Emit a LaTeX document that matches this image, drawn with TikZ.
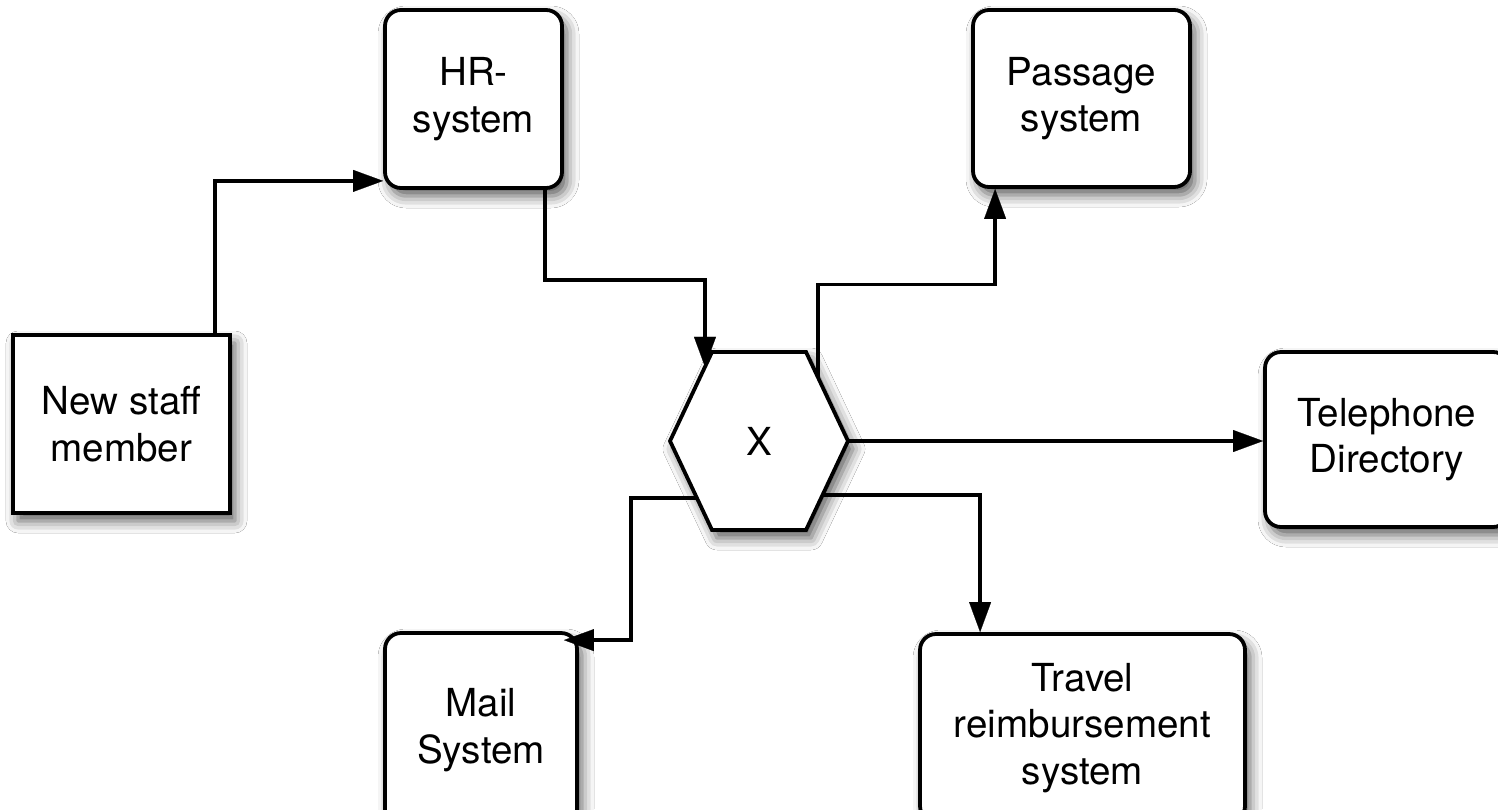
\documentclass[tikz,border=0pt]{standalone}
\usepackage{fontspec}
\setmainfont{TeX Gyre Heros}
\usetikzlibrary{calc,arrows.meta,shadows.blur}
\begin{document}
\begin{tikzpicture}[x=0.5pt,y=-0.5pt,
  shade/.style={blur shadow={shadow xshift=2.5pt,shadow yshift=-4pt,shadow blur radius=6pt,shadow opacity=65}},
  sysbox/.style={draw,line width=1.9pt,fill=white,rounded corners=8pt,inner sep=0pt,align=center,
     font=\fontsize{19.3}{23.3}\selectfont,shade},
  sqbox/.style={sysbox,rounded corners=0pt},
  conn/.style={line width=1.7pt,draw=black,opacity=1,fill opacity=1,draw opacity=1,
     -{Triangle[length=15pt,width=11pt,fill=black,line width=0.1pt]}},
  hexline/.style={draw,line width=1.9pt,fill=white,line join=miter,shade}
]
\useasboundingbox (0,0) rectangle (1498,809);
\fill[white] (0,0) rectangle (1498,809);

\node[sqbox,minimum width=108.5pt,minimum height=89pt] (ns) at (121.5,424) {New staff\\member};
\node[sysbox,minimum width=88.5pt,minimum height=89pt] (hr) at (473.5,99) {HR-\\system};
\node[sysbox,minimum width=108.5pt,minimum height=88.5pt] (ps) at (1081.5,98.5) {Passage\\system};
\node[sysbox,minimum width=122pt,minimum height=87.5pt] (tel) at (1387,439.5) {Telephone\\Directory};
\node[sysbox,minimum width=96pt,minimum height=97pt] (mail) at (481,730) {Mail\\System};
\node[sysbox,minimum width=162.5pt,minimum height=94pt] (trav) at (1082.5,728) {Travel\\reimbursement\\system};

% hexagon
\coordinate (hc) at (759,441);
\coordinate (hW) at ($(hc)+(-89,0)$);
\coordinate (hNW) at ($(hc)+(-47,-89)$);
\coordinate (hNE) at ($(hc)+(47,-89)$);
\coordinate (hE) at ($(hc)+(89,0)$);
\coordinate (hSE) at ($(hc)+(47,89)$);
\coordinate (hSW) at ($(hc)+(-47,89)$);
\path[hexline] (hW) -- (hNW) -- (hNE) -- (hE) -- (hSE) -- (hSW) -- cycle;
\node[font=\fontsize{19.3}{23.3}\selectfont,inner sep=0pt] (hx) at (hc) {X};

% connectors
\draw[conn] ($(ns.north west)+(204,0)$) |- ($(hr.south west)+(0,-9)$);
\draw[conn] ($(hr.south west)+(162,0)$) -- ++(0,90) -| ($(hW)!0.833!(hNW)$);
\draw[conn] ($(hNE)!0.286!(hE)$) -- ++(0,-93) -| ($(ps.south west)+(24,0)$);
\draw[conn] (hE) -- (hE -| tel.west);
\draw[conn] ($(hE)!0.607!(hSE)$) -| ($(trav.north west)+(62,0)$);
\draw[conn] ($(hW)!0.64!(hSW)$) -- ++(-66,0) |- ($(mail.north east)+(-15,9)$);
\end{tikzpicture}
\end{document}
